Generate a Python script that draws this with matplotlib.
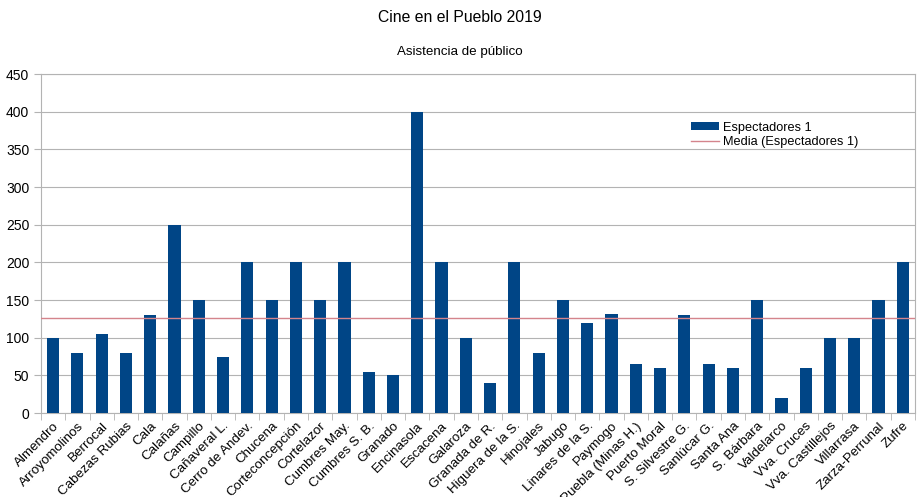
import matplotlib
matplotlib.use('Agg')
import matplotlib.pyplot as plt
import numpy as np

plt.rcParams['font.family'] = ['Liberation Sans', 'DejaVu Sans']

pueblos = ['Almendro', 'Arroyomolinos', 'Berrocal', 'Cabezas Rubias', 'Cala', 'Calañas',
           'Campillo', 'Cañaveral L.', 'Cerro de Andev.', 'Chucena', 'Corteconcepción',
           'Cortelazor', 'Cumbres May.', 'Cumbres S. B.', 'Granado', 'Encinasola',
           'Escacena', 'Galaroza', 'Granada de R.', 'Higuera de la S.', 'Hinojales',
           'Jabugo', 'Linares de la S.', 'Paymogo', 'Puebla (Minas H.)', 'Puerto Moral',
           'S. Silvestre G.', 'Sanlúcar G.', 'Santa Ana', 'S. Bárbara', 'Valdelarco',
           'Vva. Cruces', 'Vva. Castillejos', 'Villarrasa', 'Zarza-Perrunal', 'Zufre']
espectadores = [100, 80, 105, 80, 130, 250, 150, 75, 200, 150, 200,
                150, 200, 55, 50, 400, 200, 100, 40, 200, 80,
                150, 120, 132, 65, 60, 130, 65, 60, 150, 20,
                60, 100, 100, 150, 200]

media = np.mean(espectadores)
x = np.arange(len(pueblos))

fig = plt.figure(figsize=(9.19, 4.97), dpi=100)
ax = fig.add_axes([0.0446, 0.169, 0.951, 0.682])

barras = ax.bar(x, espectadores, width=0.5, color='#004586', label='Espectadores 1', zorder=3)
linea = ax.axhline(media, color='#d4848c', lw=1, label='Media (Espectadores 1)', zorder=4)

ax.set_xlim(-0.5, len(pueblos) - 0.5)
ax.set_ylim(0, 450)
ax.set_yticks(range(0, 451, 50))
ax.yaxis.grid(True, color='#b3b3b3', lw=0.8, zorder=0)

ax.set_xticks(x)
ax.set_xticklabels(pueblos, rotation=45, ha='right', rotation_mode='anchor', fontsize=9.6)
ax.tick_params(axis='x', length=0, pad=5)
ax.set_xticks(np.arange(-0.5, len(pueblos), 1), minor=True)
ax.tick_params(axis='x', which='minor', length=5, color='#b3b3b3')
ax.tick_params(axis='y', length=5, color='#b3b3b3', labelsize=10)

for s in ax.spines.values():
    s.set_color('#b3b3b3')

fig.text(0.5, 0.965, 'Cine en el Pueblo 2019', ha='center', va='center', fontsize=11.3)
fig.text(0.5, 0.895, 'Asistencia de público', ha='center', va='center', fontsize=9.6)

ax.legend([barras, linea], ['Espectadores 1', 'Media (Espectadores 1)'],
          loc='upper left', bbox_to_anchor=(0.744, 0.86), frameon=False, fontsize=9.2,
          handlelength=2.2, handleheight=0.55, handletextpad=0.3, labelspacing=0.2,
          borderaxespad=0, borderpad=0)

fig.savefig('out.png', dpi=100)
